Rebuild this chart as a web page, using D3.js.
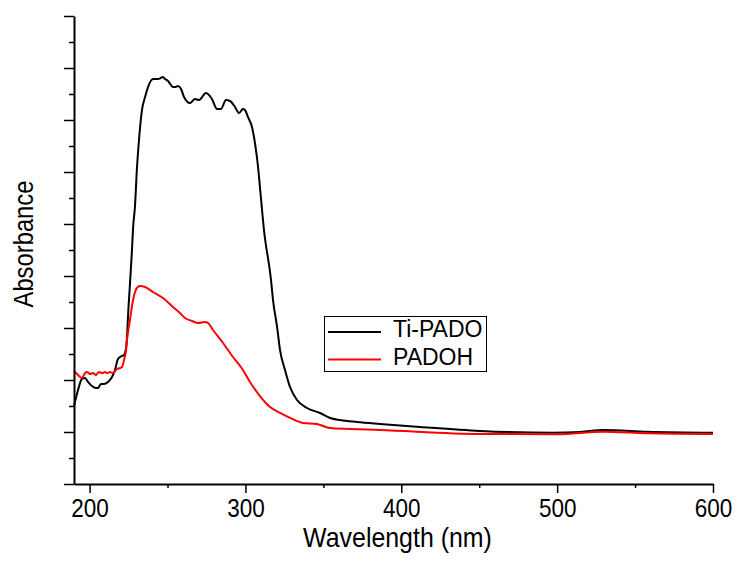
<!DOCTYPE html>
<html>
<head>
<meta charset="utf-8">
<script src="https://cdn.jsdelivr.net/npm/d3@7"></script>
<style>
  body { margin: 0; background: #fff; }
  text { font-family: "Liberation Sans", Arial, sans-serif; fill: #000; }
</style>
</head>
<body>
<svg id="canvas" width="736" height="565"></svg>
<script>
// Ti-PADO spectrum (wavelength in nm, absorbance in a.u.)
let tiWavelength = [190.0, 192.6, 195.1, 197.1, 199.0, 201.5, 204.1, 205.4, 207.3, 209.2, 211.8, 214.4, 216.3, 218.2, 220.8, 222.1, 223.4, 224.0, 224.6, 225.9, 227.2, 227.9, 229.1, 230.4, 231.7, 233.6, 235.6, 237.5, 240.7, 243.9, 247.1, 248.4, 250.3, 253.5, 254.8, 256.7, 258.7, 260.6, 264.4, 267.6, 270.2, 274.7, 278.5, 281.8, 284.3, 287.5, 290.1, 293.3, 295.9, 298.4, 299.7, 301.6, 304.2, 306.1, 308.1, 309.3, 311.9, 316.4, 317.7, 320.3, 322.2, 325.4, 328.6, 333.1, 339.5, 347.8, 354.3, 360.7, 371.6, 386.3, 412.0, 450.5, 497.3, 514.7, 529.4, 557.7, 600.0];
let tiAbs = [0.750, 0.904, 1.010, 1.019, 0.981, 0.942, 0.923, 0.923, 0.962, 0.962, 0.981, 1.029, 1.096, 1.202, 1.231, 1.240, 1.308, 1.404, 1.596, 1.923, 2.250, 2.462, 2.663, 3.038, 3.308, 3.596, 3.721, 3.817, 3.894, 3.894, 3.913, 3.894, 3.875, 3.817, 3.817, 3.827, 3.798, 3.721, 3.663, 3.702, 3.692, 3.760, 3.702, 3.606, 3.606, 3.692, 3.683, 3.625, 3.567, 3.606, 3.596, 3.529, 3.433, 3.279, 3.048, 2.856, 2.442, 1.962, 1.769, 1.510, 1.288, 1.096, 0.933, 0.808, 0.731, 0.683, 0.635, 0.615, 0.596, 0.577, 0.548, 0.510, 0.493, 0.500, 0.519, 0.503, 0.493];

// PADOH spectrum
let padohWavelength = [190.0, 192.6, 195.1, 197.1, 198.3, 200.3, 202.2, 204.1, 206.0, 208.0, 209.9, 211.2, 213.1, 215.0, 217.6, 219.5, 220.8, 222.1, 223.4, 224.0, 225.9, 227.9, 230.4, 232.3, 235.6, 240.7, 247.1, 253.5, 258.0, 261.2, 265.7, 269.6, 274.1, 276.0, 279.2, 285.6, 292.0, 298.4, 302.9, 309.3, 315.8, 322.2, 328.6, 336.9, 345.9, 354.3, 367.1, 386.3, 450.5, 499.9, 529.4, 557.7, 600.0];
let padohAbs = [1.087, 1.048, 1.019, 1.067, 1.077, 1.058, 1.067, 1.048, 1.077, 1.067, 1.077, 1.067, 1.077, 1.067, 1.106, 1.115, 1.125, 1.192, 1.288, 1.385, 1.577, 1.769, 1.885, 1.904, 1.894, 1.846, 1.788, 1.702, 1.644, 1.596, 1.567, 1.548, 1.558, 1.548, 1.481, 1.356, 1.221, 1.096, 0.981, 0.846, 0.740, 0.683, 0.635, 0.587, 0.577, 0.538, 0.529, 0.519, 0.481, 0.478, 0.503, 0.488, 0.481];

let seriesNames = ["Ti-PADO", "PADOH"];
let seriesColors = ["#000000", "#ff0000"];

let xTicks = [200, 300, 400, 500, 600];
let xMinorTicks = [250, 350, 450, 550];
let yTicks = [0, 0.5, 1, 1.5, 2, 2.5, 3, 3.5, 4, 4.5];
let yMinorTicks = [0.25, 0.75, 1.25, 1.75, 2.25, 2.75, 3.25, 3.75, 4.25];

let canvas = d3.select("#canvas");

let plotLeft = 74, plotRight = 713, plotTop = 16, plotBottom = 484;

let xScale = d3.scaleLinear().domain([190, 600]).range([plotLeft, plotRight]);
let yScale = d3.scaleLinear().domain([0, 4.5]).range([plotBottom, plotTop]);

let drawAxes = () => {
    // minor ticks first, then the major axes on top
    canvas.append('g')
        .attr('transform', 'translate(0,' + plotBottom + ')')
        .call(d3.axisBottom(xScale).tickValues(xMinorTicks).tickSize(4).tickSizeOuter(0).tickFormat(''))
        .call(g => g.select('.domain').remove())
        .selectAll('line').attr('stroke-width', 1.5);

    canvas.append('g')
        .attr('transform', 'translate(' + plotLeft + ',0)')
        .call(d3.axisLeft(yScale).tickValues(yMinorTicks).tickSize(5).tickSizeOuter(0).tickFormat(''))
        .call(g => g.select('.domain').remove())
        .selectAll('line').attr('stroke-width', 1.5);

    let xAxis = canvas.append('g')
        .attr('transform', 'translate(0,' + plotBottom + ')')
        .call(d3.axisBottom(xScale).tickValues(xTicks).tickSize(9).tickSizeOuter(0).tickPadding(6));
    xAxis.select('.domain').attr('stroke-width', 2);
    xAxis.selectAll('line').attr('stroke-width', 1.5);
    // the original labels look a bit narrow and tall
    xAxis.selectAll('text')
        .attr('transform', 'scale(0.9,1)')
        .style('font-size', '25px')
        .style('font-family', '"Liberation Sans", Arial, sans-serif');

    let yAxis = canvas.append('g')
        .attr('transform', 'translate(' + plotLeft + ',0)')
        .call(d3.axisLeft(yScale).tickValues(yTicks).tickSize(10).tickSizeOuter(0).tickFormat(''));
    yAxis.select('.domain').attr('stroke-width', 2);
    yAxis.selectAll('line').attr('stroke-width', 1.5);

    canvas.append('text')
        .attr('transform', 'translate(' + ((plotLeft + plotRight) / 2 + 4) + ',547) scale(0.89,1)')
        .attr('text-anchor', 'middle')
        .style('font-size', '28px')
        .text('Wavelength (nm)');

    canvas.append('text')
        .attr('transform', 'translate(33,244) rotate(-90) scale(0.85,1)')
        .attr('text-anchor', 'middle')
        .style('font-size', '28px')
        .text('Absorbance');
}

let drawLines = () => {
    let line = d3.line()
        .x(d => xScale(d[0]))
        .y(d => yScale(d[1]))
        .curve(d3.curveMonotoneX);

    let series = [
        d3.zip(tiWavelength, tiAbs),
        d3.zip(padohWavelength, padohAbs)
    ];

    // PADOH is drawn on top of Ti-PADO
    canvas.selectAll('path.spectrum')
        .data(series)
        .enter()
        .append('path')
        .attr('class', 'spectrum')
        .attr('d', line)
        .attr('fill', 'none')
        .attr('stroke', (d, i) => seriesColors[i])
        .attr('stroke-width', 2)
        .attr('stroke-linejoin', 'round');
}

let drawLegend = () => {
    let legend = canvas.append('g');

    legend.append('rect')
        .attr('x', 324.5)
        .attr('y', 316.5)
        .attr('width', 162)
        .attr('height', 55)
        .attr('fill', '#fff')
        .attr('stroke', '#000')
        .attr('stroke-width', 1);

    seriesNames.forEach((name, i) => {
        let cy = 332 + i * 27.5;
        legend.append('line')
            .attr('x1', 328).attr('x2', 381)
            .attr('y1', cy).attr('y2', cy)
            .attr('stroke', seriesColors[i])
            .attr('stroke-width', 2);
        legend.append('text')
            .attr('x', 393)
            .attr('y', cy + 5)
            .style('font-size', '23px')
            .text(name);
    });
}

drawLines();
drawAxes();
drawLegend();
</script>
</body>
</html>
